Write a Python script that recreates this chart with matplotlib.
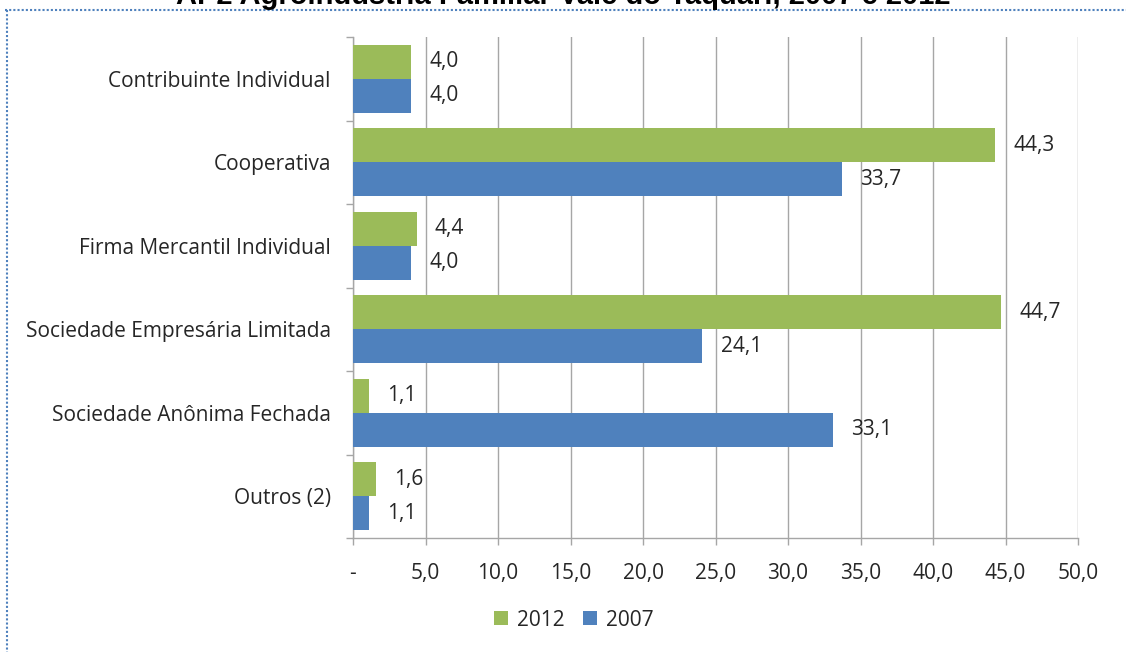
import matplotlib
matplotlib.use("Agg")
import matplotlib.pyplot as plt
import numpy as np

categories = ["Contribuinte Individual", "Cooperativa", "Firma Mercantil Individual",
              "Sociedade Empresária Limitada", "Sociedade Anônima Fechada", "Outros (2)"]
values_2012 = [4.0, 44.3, 4.4, 44.7, 1.1, 1.6]
values_2007 = [4.0, 33.7, 4.0, 24.1, 33.1, 1.1]
xticks = [0, 5, 10, 15, 20, 25, 30, 35, 40, 45, 50]
xtick_labels = ["-", "5,0", "10,0", "15,0", "20,0", "25,0", "30,0", "35,0", "40,0", "45,0", "50,0"]
title = "AP2 Agroindústria Familiar Vale do Taquari, 2007 e 2012"

GREEN = "#9BBB59"
BLUE = "#4F81BD"
GRID = "#A6A6A6"
TXT = "#262626"
FONT = "Open Sans"
FS = 15

fig = plt.figure(figsize=(11.26, 6.52), dpi=100)
ax = fig.add_axes([353/1126, 1-538/652, (1078-353)/1126, (538-37)/652])

n = len(categories)
centers = np.arange(n)
h = 0.41
ax.barh(centers - h/2, values_2012, height=h, color=GREEN, label="2012", zorder=3)
ax.barh(centers + h/2, values_2007, height=h, color=BLUE, label="2007", zorder=3)

def fmt(v):
    return f"{v:.1f}".replace(".", ",")

for i in range(n):
    ax.annotate(fmt(values_2012[i]), (values_2012[i], centers[i] - h/2), xytext=(13, 0),
                textcoords="offset points", va="center", ha="left", fontsize=FS,
                color=TXT, family=FONT)
    ax.annotate(fmt(values_2007[i]), (values_2007[i], centers[i] + h/2), xytext=(13, 0),
                textcoords="offset points", va="center", ha="left", fontsize=FS,
                color=TXT, family=FONT)

ax.set_xlim(0, 50)
ax.set_ylim(n - 0.5, -0.5)
ax.set_xticks(xticks)
ax.set_xticklabels(xtick_labels, fontsize=FS, color=TXT, family=FONT)
ax.set_yticks(centers)
ax.set_yticklabels(categories, fontsize=FS, color=TXT, family=FONT)
ax.tick_params(axis="y", length=0, pad=16)
ax.set_yticks(np.arange(n + 1) - 0.5, minor=True)
ax.tick_params(axis="y", which="minor", length=5, color=GRID, width=1)
ax.tick_params(axis="x", length=5, color=GRID, width=1, pad=13)
ax.grid(axis="x", color=GRID, linewidth=1, zorder=0)
for s in ["top", "right"]:
    ax.spines[s].set_visible(False)
for s in ["left", "bottom"]:
    ax.spines[s].set_color(GRID)
    ax.spines[s].set_linewidth(1)

leg = fig.legend(loc="center", bbox_to_anchor=(574/1126, 1-620/652), ncol=2, frameon=False,
                 prop={"family": FONT, "size": FS}, handlelength=0.65, handleheight=0.65,
                 columnspacing=0.9, handletextpad=0.45)
for t in leg.get_texts():
    t.set_color(TXT)

fig.text(0.5, 1-4/652, title, ha="center", va="baseline", fontsize=21,
         fontweight="bold", family="Liberation Sans", color="#000000")

# dotted border
fig.add_artist(plt.Line2D([5/1126, 1.0], [1-10/652, 1-10/652], transform=fig.transFigure,
                          color=BLUE, linestyle=(0, (1, 1)), linewidth=1.5))
fig.add_artist(plt.Line2D([7/1126, 7/1126], [1-10/652, 0.0], transform=fig.transFigure,
                          color=BLUE, linestyle=(0, (1, 1)), linewidth=1.5))

fig.savefig("out.png", dpi=100)
